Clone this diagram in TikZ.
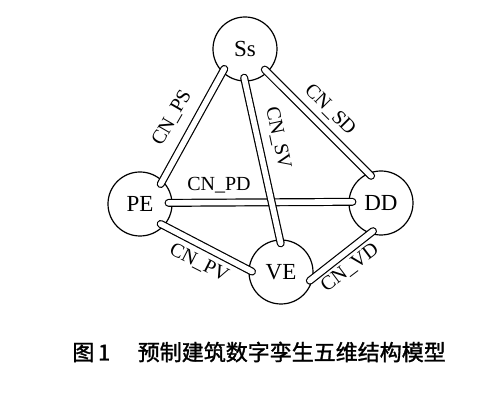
\documentclass[tikz,border=0pt]{standalone}
\usepackage{fontspec}
\setmainfont{Liberation Serif}
\newfontfamily\cjk[FakeBold=1.4]{Noto Sans CJK SC}
\usetikzlibrary{positioning}

\begin{document}
\begin{tikzpicture}[x=0.5pt,y=-0.5pt,
  dim/.style={draw,circle,line width=0.6pt,minimum size=32pt,inner sep=0pt,font=\fontsize{11.5}{12}\selectfont},
  link/.style={draw=black,line width=0.6pt,double=white,double distance=2.8pt,line cap=round,shorten <=-2pt,shorten >=-2pt},
  tag/.style={font=\fontsize{10}{12}\selectfont,inner sep=1pt}]
\useasboundingbox (0,0) rectangle (500,406);
% the five dimensions
\node[dim] (Ss) at (245,49) {Ss};
\node[dim] (PE) at (140,204) {PE};
\node[dim] (DD) at (381,203) {DD};
\node[dim] (VE) at (281,272) {VE};
% connections
\draw[link] (Ss.226) -- (PE.46);
\draw[link] (Ss.314) -- (DD.113);
\draw[link] (PE.2) -- (DD.178);
\draw[link] (Ss.270) -- (VE.92);
\draw[link] (PE.318) -- (VE.176);
\draw[link] (VE.349) -- (DD.250);
% connection names
\node[tag,rotate=60] (ps) at (172,118) {CN\_PS};
\node[tag,rotate=-45] (sd) at (330,110) {CN\_SD};
\node[tag,rotate=-78] (sv) at (278,138) {CN\_SV};
\node[tag] (pd) at (219,185) {CN\_PD};
\node[tag,rotate=-27] (pv) at (199,263) {CN\_PV};
\node[tag,rotate=37] (vd) at (350,268) {CN\_VD};
\node[anchor=west,font=\cjk\fontsize{11}{12}\selectfont,inner sep=0pt] (cap) at (72,352) {图\,1\hspace{1.25em}预制建筑数字孪生五维结构模型};
\end{tikzpicture}
\end{document}
